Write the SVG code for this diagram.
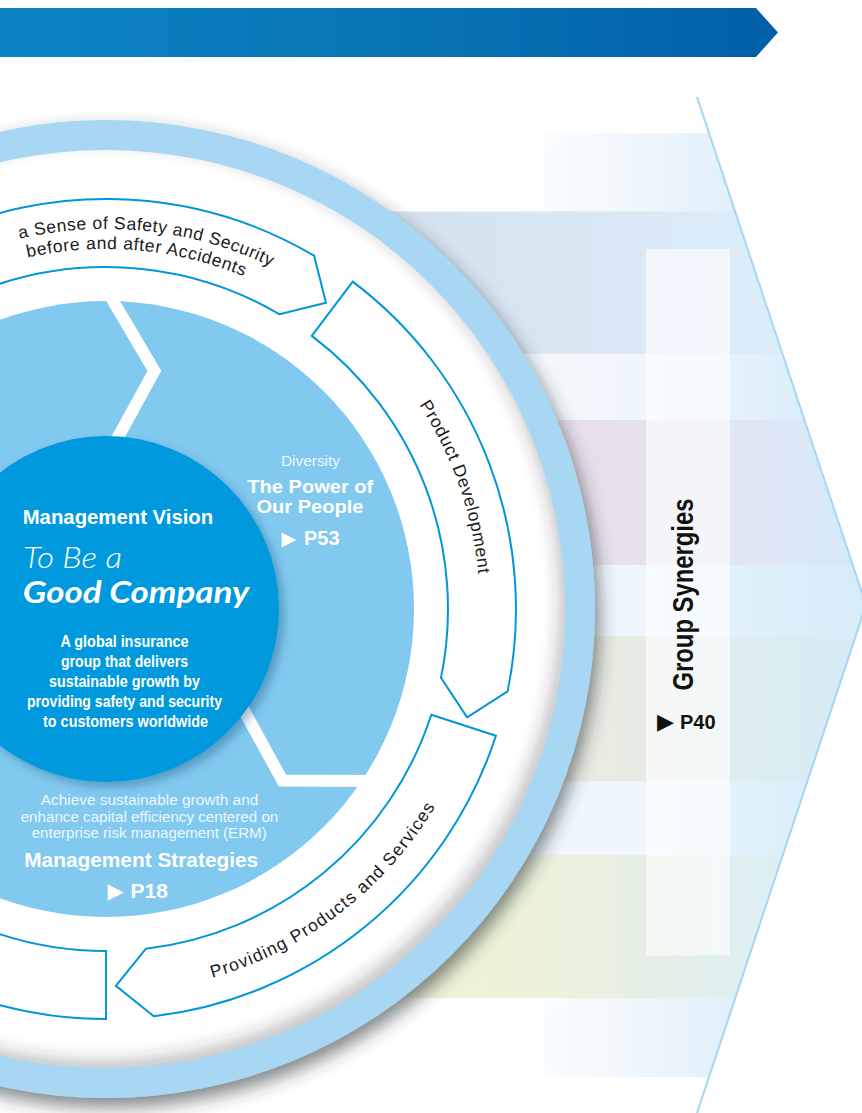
<svg xmlns="http://www.w3.org/2000/svg" width="862" height="1113" viewBox="0 0 862 1113">
<defs>
<style>
.sans{font-family:"Liberation Sans",Arial,sans-serif}
.w{fill:#ffffff}
.b{font-weight:bold}
.soft{fill:#EDF7FD}
.arc{font-family:"Liberation Sans",Arial,sans-serif;font-size:17.5px;fill:#1a1a1a;letter-spacing:0.6px}
.arrow{fill:#ffffff;stroke:#0096D8;stroke-width:2;stroke-linejoin:miter}
.gap{fill:none;stroke:#ffffff;stroke-width:12;stroke-linejoin:miter}
.tri{font-family:"DejaVu Sans",sans-serif}
</style>
<linearGradient id="gBanner" x1="0" y1="0" x2="778" y2="0" gradientUnits="userSpaceOnUse">
<stop offset="0" stop-color="#0B84C3"/><stop offset="0.55" stop-color="#0873B5"/><stop offset="1" stop-color="#005FA7"/>
</linearGradient>
<linearGradient id="gA" x1="380" y1="0" x2="866" y2="0" gradientUnits="userSpaceOnUse">
<stop offset="0" stop-color="#FFFFFF"/><stop offset="0.27" stop-color="#FFFFFF"/><stop offset="0.55" stop-color="#EEF6FC"/><stop offset="0.7" stop-color="#E3F1FB"/><stop offset="1" stop-color="#D6ECF9"/>
</linearGradient>
<linearGradient id="gB" x1="380" y1="0" x2="866" y2="0" gradientUnits="userSpaceOnUse">
<stop offset="0" stop-color="#D3E1ED"/><stop offset="0.27" stop-color="#D8E6F2"/><stop offset="0.55" stop-color="#DAE9F5"/><stop offset="0.75" stop-color="#DCEDF9"/><stop offset="1" stop-color="#D6ECF9"/>
</linearGradient>
<linearGradient id="gC" x1="380" y1="0" x2="866" y2="0" gradientUnits="userSpaceOnUse">
<stop offset="0" stop-color="#F7FAFD"/><stop offset="0.3" stop-color="#F4F8FC"/><stop offset="0.55" stop-color="#EFF6FC"/><stop offset="0.75" stop-color="#E3F1FB"/><stop offset="1" stop-color="#D6ECF9"/>
</linearGradient>
<linearGradient id="gD" x1="380" y1="0" x2="866" y2="0" gradientUnits="userSpaceOnUse">
<stop offset="0" stop-color="#E6DAE4"/><stop offset="0.3" stop-color="#E8DDE8"/><stop offset="0.55" stop-color="#E6E2EC"/><stop offset="0.75" stop-color="#E0E6F4"/><stop offset="1" stop-color="#D6EAF8"/>
</linearGradient>
<linearGradient id="gE" x1="380" y1="0" x2="866" y2="0" gradientUnits="userSpaceOnUse">
<stop offset="0" stop-color="#EEF4FB"/><stop offset="0.55" stop-color="#EEF6FD"/><stop offset="0.75" stop-color="#E0F0FA"/><stop offset="1" stop-color="#D6ECF9"/>
</linearGradient>
<linearGradient id="gF" x1="380" y1="0" x2="866" y2="0" gradientUnits="userSpaceOnUse">
<stop offset="0" stop-color="#EAE9DA"/><stop offset="0.3" stop-color="#EDEDE1"/><stop offset="0.55" stop-color="#E6EBE3"/><stop offset="0.75" stop-color="#DDEDEF"/><stop offset="1" stop-color="#D6EBF6"/>
</linearGradient>
<linearGradient id="gG" x1="380" y1="0" x2="866" y2="0" gradientUnits="userSpaceOnUse">
<stop offset="0" stop-color="#EFF5FC"/><stop offset="0.55" stop-color="#EFF7FD"/><stop offset="0.75" stop-color="#E1F1FB"/><stop offset="1" stop-color="#D6ECF9"/>
</linearGradient>
<linearGradient id="gH" x1="380" y1="0" x2="866" y2="0" gradientUnits="userSpaceOnUse">
<stop offset="0" stop-color="#EEF3D6"/><stop offset="0.3" stop-color="#EDF3DA"/><stop offset="0.55" stop-color="#E5EFE5"/><stop offset="0.75" stop-color="#DFEFF2"/><stop offset="1" stop-color="#D6ECF7"/>
</linearGradient>
<clipPath id="chevClip"><polygon points="200,133 709,133 866,605 709,1077 200,1077"/></clipPath>
<clipPath id="discClip"><circle cx="106" cy="609" r="459"/></clipPath>
<filter id="ringShadow" x="-20%" y="-20%" width="140%" height="140%">
<feDropShadow dx="4" dy="9" stdDeviation="9" flood-color="#2a3038" flood-opacity="0.6"/>
</filter>
<filter id="blur8" x="-20%" y="-20%" width="140%" height="140%"><feGaussianBlur stdDeviation="8"/></filter>
<filter id="coreShadow" x="-20%" y="-20%" width="140%" height="140%">
<feDropShadow dx="5" dy="5" stdDeviation="5" flood-color="#00406e" flood-opacity="0.35"/>
</filter>
<path id="tp1" d="M -200.3 384.0 A 380 380 0 0 1 454.0 456.3"/>
<path id="tp2" d="M -188.9 402.5 A 360 360 0 0 1 432.3 456.9"/>
<path id="tpPD" d="M 175.9 242.6 A 372 372 0 0 1 388.4 852.7"/>
<path id="tpPS" d="M -40.3 964.0 A 384 384 0 0 0 486.6 558.2"/>
</defs>

<rect width="862" height="1113" fill="#ffffff"/>

<g id="banner">
<polygon points="0,8 756,8 778,32.5 756,57 0,57" fill="url(#gBanner)"/>
</g>

<g id="group-synergies">
<g clip-path="url(#chevClip)">
<rect x="200" y="133" width="670" height="79" fill="url(#gA)"/>
<rect x="200" y="211.5" width="670" height="143" fill="url(#gB)"/>
<rect x="200" y="354" width="670" height="66.5" fill="url(#gC)"/>
<rect x="200" y="420" width="670" height="145.5" fill="url(#gD)"/>
<rect x="200" y="565" width="670" height="72" fill="url(#gE)"/>
<rect x="200" y="636.5" width="670" height="145" fill="url(#gF)"/>
<rect x="200" y="781" width="670" height="74.5" fill="url(#gG)"/>
<rect x="200" y="855" width="670" height="143.5" fill="url(#gH)"/>
<rect x="200" y="998" width="670" height="79" fill="url(#gA)"/>
</g>
<rect x="646" y="249" width="84" height="706.5" fill="#ffffff" fill-opacity="0.62"/>
<polyline points="697,97 866,605 697,1113" fill="none" stroke="#A9D8F3" stroke-width="2.2"/>
<text class="sans b" fill="#111111" font-size="29" text-anchor="middle" transform="translate(693 594.5) rotate(-90)" textLength="192" lengthAdjust="spacingAndGlyphs">Group Synergies</text>
<text class="sans b" fill="#111111" font-size="20" y="729"><tspan class="tri" x="657" font-size="22">▶</tspan><tspan x="680">P40</tspan></text>
</g>

<g id="ring">
<circle cx="106" cy="609" r="489" fill="#A8D7F4" filter="url(#ringShadow)"/>
<circle cx="106" cy="609" r="459" fill="#ffffff"/>
<g clip-path="url(#discClip)">
<circle cx="100" cy="601" r="474" fill="none" stroke="#2b3138" stroke-opacity="0.28" stroke-width="30" filter="url(#blur8)"/>
</g>
<circle cx="106" cy="609" r="308" fill="#82C9F0"/>
</g>

<g id="connectors">
<polyline class="gap" points="106,459 154.4,370.9 106,289"/>
<polyline class="gap" points="232.5,689.6 282.4,780.5 375.9,780.9"/>
<polyline class="gap" points="-27.1,678.3 -130.7,676 -177.8,756.8"/>
</g>

<g id="segment-diversity">
<text class="sans soft" font-size="15" x="310.5" y="466" text-anchor="middle" textLength="59" lengthAdjust="spacingAndGlyphs">Diversity</text>
<text class="sans w b" font-size="19" x="310.3" y="492.7" text-anchor="middle" textLength="126" lengthAdjust="spacingAndGlyphs">The Power of</text>
<text class="sans w b" font-size="19" x="310" y="512.7" text-anchor="middle" textLength="107" lengthAdjust="spacingAndGlyphs">Our People</text>
<text class="sans w b" font-size="20" y="545"><tspan class="tri" x="281.5" font-size="19">▶</tspan><tspan x="304">P53</tspan></text>
</g>

<g id="segment-strategies">
<text class="sans soft" font-size="14" x="149.5" y="805" text-anchor="middle" textLength="217.6" lengthAdjust="spacingAndGlyphs">Achieve sustainable growth and</text>
<text class="sans soft" font-size="14" x="149.5" y="821.7" text-anchor="middle" textLength="257.6" lengthAdjust="spacingAndGlyphs">enhance capital efficiency centered on</text>
<text class="sans soft" font-size="14" x="149.2" y="838.3" text-anchor="middle" textLength="235" lengthAdjust="spacingAndGlyphs">enterprise risk management (ERM)</text>
<text class="sans w b" font-size="20.5" x="141.2" y="866.7" text-anchor="middle" textLength="234" lengthAdjust="spacingAndGlyphs">Management Strategies</text>
<text class="sans w b" font-size="21" y="898.3"><tspan class="tri" x="107.5" font-size="21">▶</tspan><tspan x="130.5">P18</tspan></text>
</g>

<g id="core-vision">
<circle cx="106" cy="609" r="173" fill="#0099DE" filter="url(#coreShadow)"/>
<text class="sans w b" font-size="20" x="22.7" y="524" textLength="190.5" lengthAdjust="spacingAndGlyphs">Management Vision</text>
<text class="w" font-family="Lato,'Liberation Sans',sans-serif" font-style="italic" font-weight="300" font-size="30" x="23" y="568" textLength="99" lengthAdjust="spacingAndGlyphs">To Be a</text>
<text class="w" font-family="Lato,'Liberation Sans',sans-serif" font-style="italic" font-weight="700" font-size="31" x="22.7" y="603" textLength="226.5" lengthAdjust="spacingAndGlyphs">Good Company</text>
<text class="sans w b" font-size="16" x="124.5" y="646.7" text-anchor="middle" textLength="128" lengthAdjust="spacingAndGlyphs">A global insurance</text>
<text class="sans w b" font-size="16" x="124.5" y="666.7" text-anchor="middle" textLength="127" lengthAdjust="spacingAndGlyphs">group that delivers</text>
<text class="sans w b" font-size="16" x="124.5" y="686.7" text-anchor="middle" textLength="151" lengthAdjust="spacingAndGlyphs">sustainable growth by</text>
<text class="sans w b" font-size="16" x="124.5" y="706.7" text-anchor="middle" textLength="195" lengthAdjust="spacingAndGlyphs">providing safety and security</text>
<text class="sans w b" font-size="16" x="125.5" y="726.7" text-anchor="middle" textLength="165" lengthAdjust="spacingAndGlyphs">to customers worldwide</text>
</g>

<g id="arrow-safety">
<path class="arrow" d="M -302.4 573.3 A 410 410 0 0 1 314.1 255.7 L 326.0 302.8 L 279.6 314.3 A 342 342 0 0 0 -234.7 579.2 Z"/>
<text class="arc" style="letter-spacing:0.58px"><textPath href="#tp1" startOffset="50%" text-anchor="middle">a Sense of Safety and Security</textPath></text>
<text class="arc" style="letter-spacing:0.67px"><textPath href="#tp2" startOffset="50%" text-anchor="middle">before and after Accidents</textPath></text>
</g>

<g id="arrow-product-development">
<path class="arrow" d="M 352.7 281.6 A 410 410 0 0 1 507.6 691.4 L 467.1 717.3 L 441.0 677.8 A 342 342 0 0 0 311.8 335.9 Z"/>
<text class="arc" style="letter-spacing:0.7px"><textPath href="#tpPD" startOffset="50%" text-anchor="middle">Product Development</textPath></text>
</g>

<g id="arrow-providing">
<path class="arrow" d="M 495.9 735.7 A 410 410 0 0 1 153.8 1016.2 L 115.9 985.9 L 145.9 948.7 A 342 342 0 0 0 431.3 714.7 Z"/>
<text class="arc" style="letter-spacing:1.15px"><textPath href="#tpPS" startOffset="50%" text-anchor="middle">Providing Products and Services</textPath></text>
</g>

<g id="arrow-lower-left">
<path class="arrow" d="M 106 1019 A 410 410 0 0 1 -279.3 468.8 L -215.4 492.0 A 342 342 0 0 0 106 951 Z"/>
</g>
</svg>
